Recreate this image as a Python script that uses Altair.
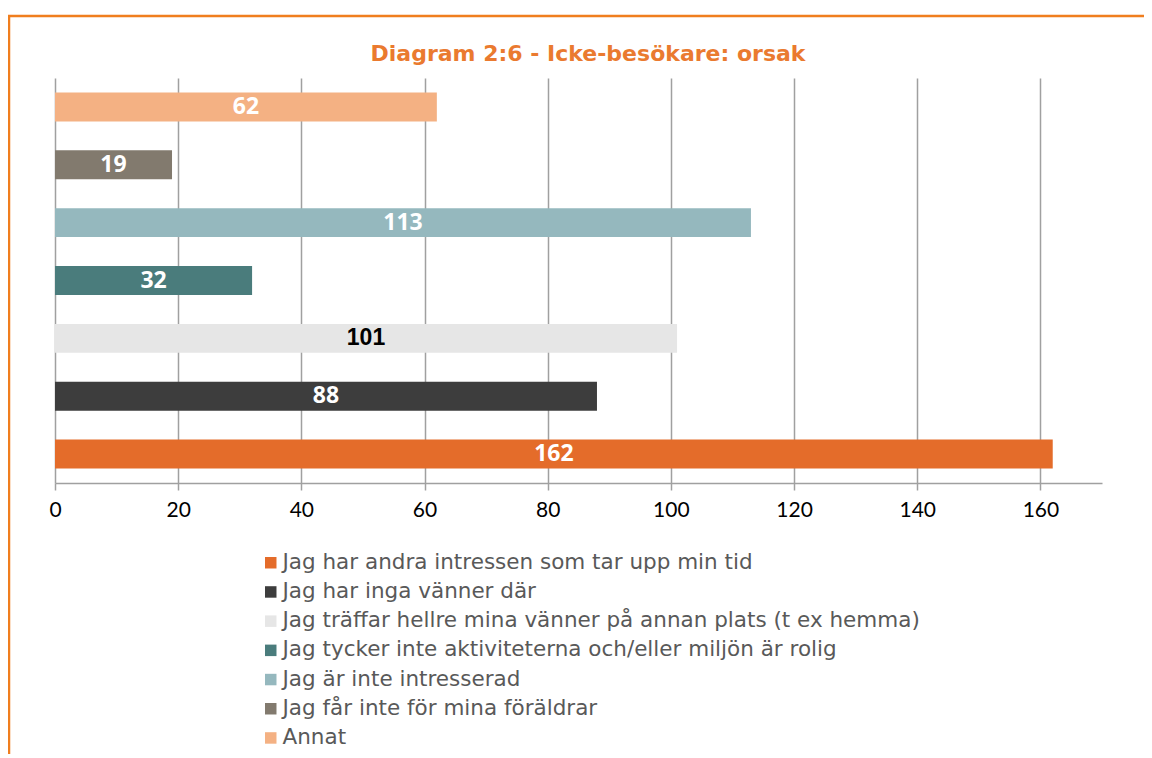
import altair as alt
import pandas as pd

categories = [
    "Jag har andra intressen som tar upp min tid",
    "Jag har inga vänner där",
    "Jag träffar hellre mina vänner på annan plats (t ex hemma)",
    "Jag tycker inte aktiviteterna och/eller miljön är rolig",
    "Jag är inte intresserad",
    "Jag får inte för mina föräldrar",
    "Annat",
]
values = [162, 88, 101, 32, 113, 19, 62]
colors = ["#E46C2A", "#3D3D3D", "#E6E6E6", "#4A7C7C", "#95B8BE", "#827A6E", "#F4B183"]
label_colors = ["white", "white", "black", "white", "white", "white", "white"]
tick_values = [0, 20, 40, 60, 80, 100, 120, 140, 160]
title_text = ["Diagram 2:6 - Icke-besökare: orsak"]

df = pd.DataFrame({"category": categories, "value": values, "labelColor": label_colors})
y_order = categories[::-1]

GRID = "#A0A0A0"
ORANGE_LINE = "#F07E1E"

base = alt.Chart(df).transform_calculate(mid="datum.value / 2")

y_enc = alt.Y(
    "category:N",
    sort=y_order,
    scale=alt.Scale(paddingInner=0.5, paddingOuter=0.25),
    axis=alt.Axis(labels=False, ticks=False, title=None, domain=False, grid=False),
)

bars = base.mark_bar().encode(
    x=alt.X(
        "value:Q",
        scale=alt.Scale(domain=[0, 170], nice=False, zero=True),
        axis=alt.Axis(
            values=tick_values,
            title=None,
            grid=True,
            gridColor=GRID,
            gridWidth=1.5,
            tickColor=GRID,
            tickWidth=1.5,
            tickSize=7,
            domainColor=GRID,
            domainWidth=1.5,
            labelFont="Lato",
            labelFontSize=21,
            labelColor="black",
            labelPadding=9,
            labelFlush=False,
        ),
    ),
    y=y_enc,
    color=alt.Color(
        "category:N",
        scale=alt.Scale(domain=categories, range=colors),
        legend=alt.Legend(
            orient="none",
            legendX=205,
            legendY=474,
            title=None,
            symbolType="square",
            symbolSize=132,
            symbolStrokeWidth=0,
            labelFont="DejaVu Sans",
            labelFontSize=21.5,
            labelColor="#595959",
            labelOffset=1,
            rowPadding=6.2,
            padding=0,
            labelLimit=1000,
        ),
    ),
)

text_white = base.transform_filter("datum.labelColor == 'white'").mark_text(
    font="Open Sans", fontWeight="bold", fontSize=23, color="white", baseline="middle", align="center"
).encode(x=alt.X("mid:Q"), y=y_enc, text="value:Q")

text_black = base.transform_filter("datum.labelColor == 'black'").mark_text(
    font="Liberation Sans", fontWeight="bold", fontSize=23, color="black", baseline="middle", align="center"
).encode(x=alt.X("mid:Q"), y=y_enc, text="value:Q")

title = alt.Chart(alt.Data(values=[{"t": t} for t in title_text])).mark_text(
    font="DejaVu Sans", fontWeight="bold", fontSize=22, color="#EA7A2F", align="center", baseline="alphabetic"
).encode(text="t:N", x=alt.value(533), y=alt.value(-17))

frame_data = alt.Data(values=[{"k": 1}])
border_top = alt.Chart(frame_data).mark_rule(color=ORANGE_LINE, strokeWidth=2.5).encode(
    x=alt.value(-47), x2=alt.value(1100), y=alt.value(-62)
)
border_left = alt.Chart(frame_data).mark_rule(color=ORANGE_LINE, strokeWidth=2.5).encode(
    x=alt.value(-46), y=alt.value(-62), y2=alt.value(720)
)

chart = alt.layer(border_top, border_left, title, bars, text_white, text_black).properties(
    width=1047,
    height=405,
    autosize=alt.AutoSizeParams(type="none"),
    padding={"left": 47, "top": 70, "right": 42, "bottom": 271},
).configure_view(stroke=None)

chart.save("out.html", embed_options={"renderer": "svg", "actions": False})
